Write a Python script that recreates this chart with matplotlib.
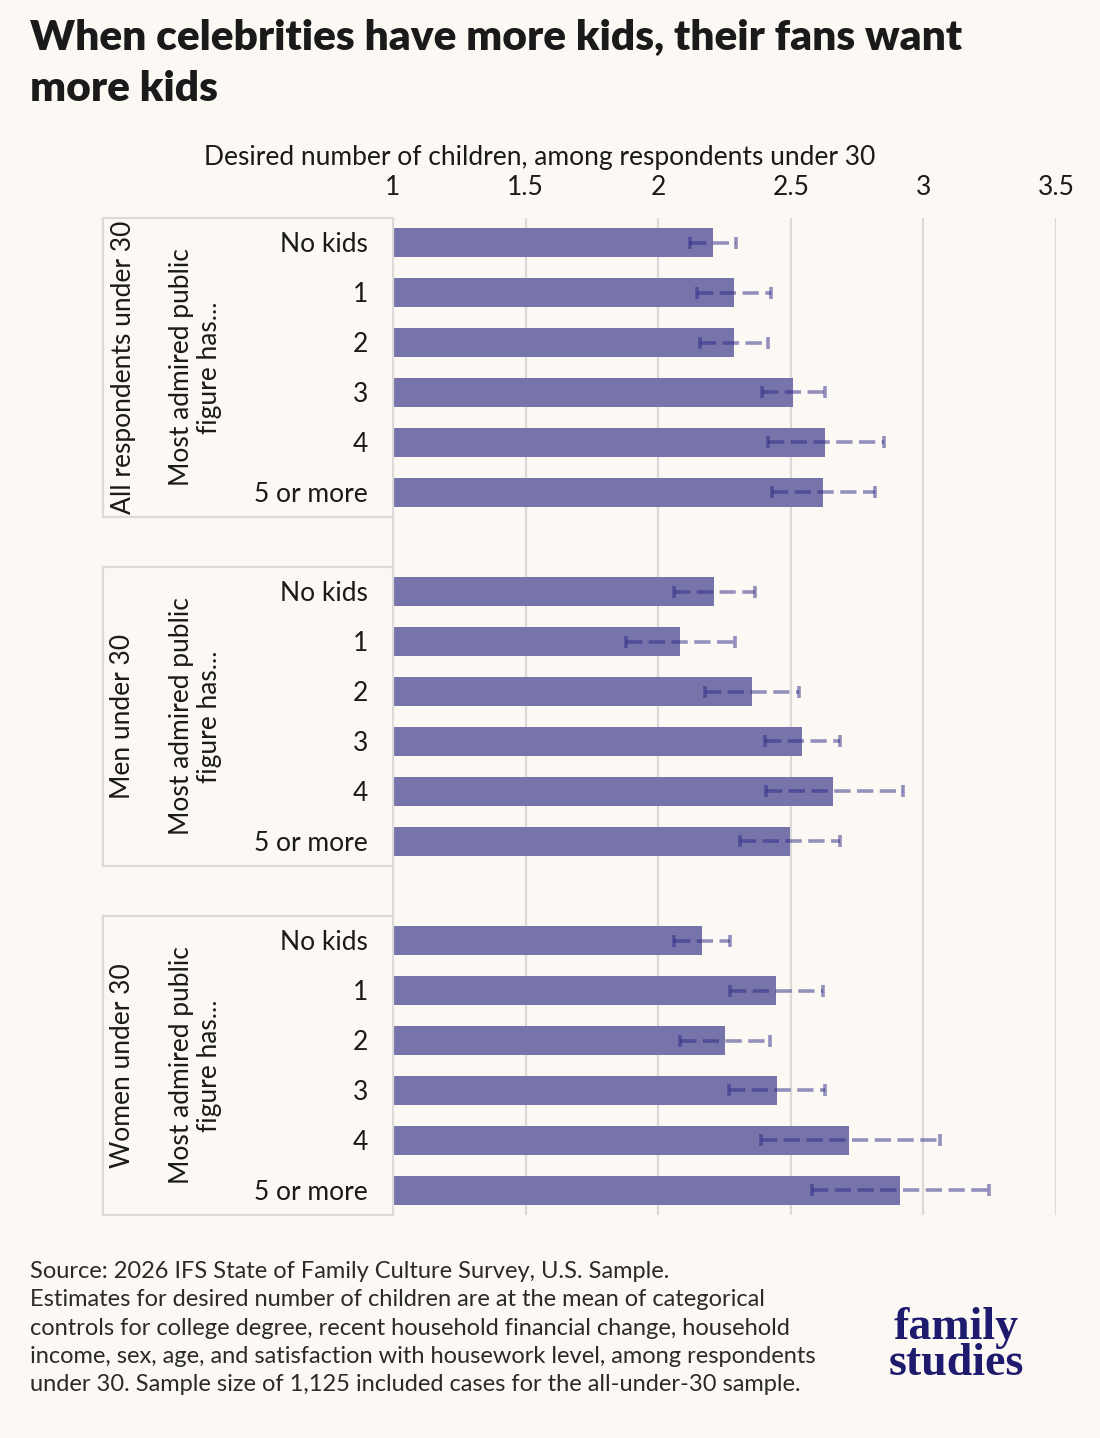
import matplotlib
matplotlib.use("Agg")
import matplotlib.pyplot as plt
import numpy as np

# ---------------- data ----------------
categories = ["No kids", "1", "2", "3", "4", "5 or more"]
groups = ["All respondents under 30", "Men under 30", "Women under 30"]
sub_label = "Most admired public\nfigure has..."

all_vals = [2.207, 2.286, 2.284, 2.508, 2.630, 2.622]
all_lo = [2.120, 2.147, 2.157, 2.391, 2.414, 2.429]
all_hi = [2.294, 2.426, 2.414, 2.628, 2.852, 2.816]

men_vals = [2.211, 2.083, 2.352, 2.543, 2.660, 2.497]
men_lo = [2.058, 1.880, 2.176, 2.401, 2.405, 2.310]
men_hi = [2.364, 2.289, 2.531, 2.687, 2.923, 2.685]

women_vals = [2.165, 2.445, 2.251, 2.448, 2.721, 2.913]
women_lo = [2.061, 2.271, 2.083, 2.268, 2.386, 2.579]
women_hi = [2.271, 2.623, 2.421, 2.629, 3.061, 3.247]

x_ticks = [1, 1.5, 2, 2.5, 3, 3.5]
x_tick_labels = ["1", "1.5", "2", "2.5", "3", "3.5"]

title = "When celebrities have more kids, their fans want\nmore kids"
axis_title = "Desired number of children, among respondents under 30"
footer = ("Source: 2026 IFS State of Family Culture Survey, U.S. Sample.\n"
          "Estimates for desired number of children are at the mean of categorical\n"
          "controls for college degree, recent household financial change, household\n"
          "income, sex, age, and satisfaction with housework level, among respondents\n"
          "under 30. Sample size of 1,125 included cases for the all-under-30 sample.")

# ---------------- style ----------------
BG = "#fcf8f4"
BAR = "#7674aa"
ERR = "#2e2a85"
GRID = "#dcdad8"
TXT = "#1a1a1a"
FS = 19
plt.rcParams["font.family"] = ["Lato", "DejaVu Sans"]

W, H = 1100, 1438
fig = plt.figure(figsize=(W / 100, H / 100), dpi=100, facecolor=BG)
ax = fig.add_axes([393 / W, 1 - 1215 / H, 663 / W, 997 / H])
ax.set_facecolor(BG)

series = [(all_vals, all_lo, all_hi), (men_vals, men_lo, men_hi), (women_vals, women_lo, women_hi)]
n = len(categories)
slot = 0
group_starts = []
for vals, lo, hi in series:
    ys = np.arange(slot, slot + n)
    group_starts.append(slot)
    ax.barh(ys, vals, height=0.58, color=BAR, zorder=2)
    ax.hlines(ys, lo, hi, colors=ERR, alpha=0.5, linewidth=2.6,
              linestyles=(0, (4.5, 1.8)), zorder=3)
    ax.plot(lo, ys, linestyle="none", marker="|", markersize=9, mew=2.6,
            color=ERR, alpha=0.5, zorder=3)
    ax.plot(hi, ys, linestyle="none", marker="|", markersize=9, mew=2.6,
            color=ERR, alpha=0.5, zorder=3)
    for i, c in enumerate(categories):
        ax.text(-0.038, ys[i] + 0.04, c, transform=ax.get_yaxis_transform(),
                ha="right", va="center", fontsize=FS, color=TXT)
    slot += n + 1

total = slot - 1
ax.set_ylim(total - 0.5, -0.5)
ax.set_xlim(1, 3.5)
ax.set_yticks([])
ax.xaxis.tick_top()
ax.set_xticks(x_ticks)
ax.set_xticklabels(x_tick_labels, fontsize=FS, color=TXT)
ax.tick_params(axis="x", length=0, pad=13)
ax.set_xlabel(axis_title, fontsize=FS, color=TXT)
ax.xaxis.set_label_position("top")
ax.xaxis.set_label_coords((540 - 393) / 663, 1 + (218 - 157) / 997)
ax.xaxis.label.set_va("center")
for x in x_ticks[1:]:
    ax.axvline(x, color=GRID, linewidth=1.6, zorder=1)
for s in ["top", "right", "bottom"]:
    ax.spines[s].set_visible(False)
ax.spines["left"].set_color(GRID)
ax.spines["left"].set_linewidth(1.6)

# group frames and labels
tr = ax.get_yaxis_transform()
xl = (103 - 393) / 663
for g, start in enumerate(group_starts):
    top = start - 0.5
    bot = start + n - 0.5
    ax.plot([xl, 0], [top, top], transform=tr, color=GRID, lw=1.6, clip_on=False)
    ax.plot([xl, 0], [bot, bot], transform=tr, color=GRID, lw=1.6, clip_on=False)
    ax.plot([xl, xl], [top, bot], transform=tr, color=GRID, lw=1.6, clip_on=False)
    mid = start + (n - 1) / 2
    ax.text((123 - 393) / 663, mid, groups[g], transform=tr, rotation=90,
            ha="center", va="center", fontsize=FS, color=TXT)
    ax.text((196 - 393) / 663, mid, sub_label, transform=tr, rotation=90,
            ha="center", va="center", fontsize=FS, color=TXT, linespacing=1.15,
            multialignment="center")

# title
fig.text(30 / W, 1 - 19 / H, title, ha="left", va="top", fontsize=30.5,
         fontweight="heavy", color=TXT, linespacing=1.42)

# footer
fig.text(30 / W, 1 - 1261 / H, footer, ha="left", va="top", fontsize=17,
         color="#2a2a2a", linespacing=1.43)

# logo
fig.text(956 / W, 1 - 1346 / H, "family\nstudies", ha="center", va="center",
         fontsize=33, fontweight="bold", color="#1e1a6e",
         family=["Liberation Serif", "DejaVu Serif"], linespacing=0.8)

fig.savefig("out.png", dpi=100, facecolor=BG)
